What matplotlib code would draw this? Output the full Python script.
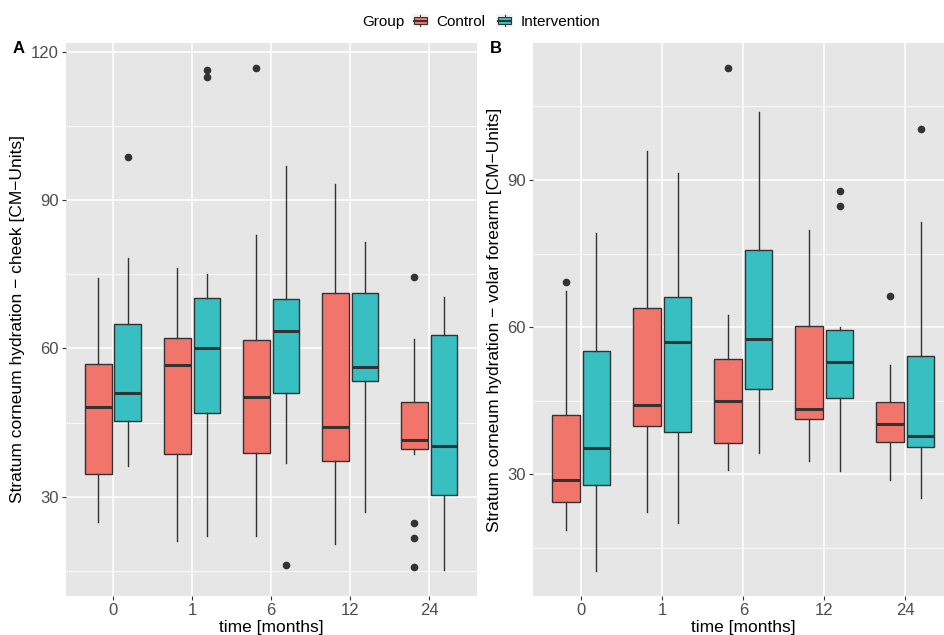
import matplotlib
matplotlib.use("Agg")
import matplotlib.pyplot as plt
from matplotlib.patches import Rectangle, Patch
from matplotlib.lines import Line2D
from matplotlib.legend_handler import HandlerBase

plt.rcParams["font.family"] = ["Liberation Sans", "DejaVu Sans"]

# Data (box stats per time point)
times = ["0", "1", "6", "12", "24"]

# Panel A - cheek
a_ctrl_lo = [24.8, 21.0, 22.1, 20.4, 38.6]
a_ctrl_q1 = [34.6, 38.6, 38.9, 37.3, 39.7]
a_ctrl_med = [48.2, 56.6, 50.1, 44.2, 41.5]
a_ctrl_q3 = [56.8, 62.1, 61.6, 71.2, 49.2]
a_ctrl_hi = [74.3, 76.2, 83.0, 93.2, 61.9]
a_ctrl_out = [[], [], [116.6], [], [74.5, 24.6, 21.6, 15.9]]

a_int_lo = [36.2, 22.1, 36.9, 27.0, 15.1]
a_int_q1 = [45.4, 47.0, 51.0, 53.5, 30.3]
a_int_med = [51.0, 60.1, 63.6, 56.3, 40.2]
a_int_q3 = [64.9, 70.2, 69.9, 71.2, 62.7]
a_int_hi = [78.3, 75.1, 96.8, 81.6, 70.3]
a_int_out = [[98.6], [116.2, 114.9], [16.2], [], []]

# Panel B - volar forearm
b_ctrl_lo = [18.5, 22.3, 30.8, 32.6, 28.8]
b_ctrl_q1 = [24.3, 39.8, 36.3, 41.2, 36.6]
b_ctrl_med = [28.8, 44.0, 44.9, 43.3, 40.2]
b_ctrl_q3 = [42.0, 63.8, 53.5, 60.3, 44.7]
b_ctrl_hi = [67.4, 96.0, 62.5, 79.9, 52.2]
b_ctrl_out = [[69.1], [], [112.8], [], [66.3]]

b_int_lo = [10.3, 20.1, 34.3, 30.7, 25.2]
b_int_q1 = [27.8, 38.5, 47.3, 45.6, 35.5]
b_int_med = [35.3, 56.9, 57.5, 52.8, 37.8]
b_int_q3 = [55.1, 66.1, 75.7, 59.5, 54.0]
b_int_hi = [79.1, 91.4, 103.9, 60.1, 81.5]
b_int_out = [[], [], [], [87.75, 84.75], [100.4]]

CTRL = "#F2756C"
INTV = "#38BFC1"
EDGE = "#333333"


def make_stats(lo, q1, med, q3, hi, out):
    return [
        {"whislo": a, "q1": b, "med": c, "q3": d, "whishi": e, "fliers": f}
        for a, b, c, d, e, f in zip(lo, q1, med, q3, hi, out)
    ]


def draw_panel(ax, ctrl, intv, ylim, ylabel, letter, letter_x):
    ax.set_facecolor("#E6E6E6")
    for stats, color, shift in [(ctrl, CTRL, -0.1875), (intv, INTV, 0.1875)]:
        pos = [i + shift for i in range(len(times))]
        ax.bxp(
            stats,
            positions=pos,
            widths=0.34,
            patch_artist=True,
            showcaps=False,
            boxprops=dict(facecolor=color, edgecolor=EDGE, linewidth=1.0),
            whiskerprops=dict(color=EDGE, linewidth=1.0),
            medianprops=dict(color=EDGE, linewidth=2.2, solid_capstyle="butt"),
            flierprops=dict(marker="o", markersize=4.5, markerfacecolor=EDGE,
                            markeredgecolor=EDGE),
            zorder=3,
        )
    ax.set_xlim(-0.6, len(times) - 0.4)
    ax.set_xticks(range(len(times)))
    ax.set_xticklabels(times)
    ax.set_yticks([30, 60, 90, 120])
    ax.set_yticks([15, 45, 75, 105], minor=True)
    ax.set_ylim(*ylim)
    ax.grid(True, which="major", color="white", linewidth=1.1, zorder=0)
    ax.grid(True, which="minor", axis="y", color="white", linewidth=0.55, zorder=0)
    ax.set_axisbelow(True)
    for s in ax.spines.values():
        s.set_visible(False)
    ax.tick_params(axis="both", which="major", length=3, width=0.8, color=EDGE,
                   labelsize=12, labelcolor="#4D4D4D", pad=2)
    ax.tick_params(axis="both", which="minor", length=0)
    ax.set_xlabel("time [months]", fontsize=12.5, labelpad=2)
    ax.set_ylabel(ylabel, fontsize=12.5, labelpad=4)
    ax.text(letter_x, 0.99, letter, transform=ax.transAxes,
            fontsize=12, fontweight="bold", ha="left", va="center")


class BoxKey(HandlerBase):
    """Boxplot glyph as in a ggplot legend key."""

    def create_artists(self, legend, orig_handle, xdescent, ydescent, width, height,
                       fontsize, trans):
        x0, y0 = -xdescent, -ydescent
        cx = x0 + width / 2
        bg = Rectangle((x0, y0), width, height, facecolor="#F2F2F2", edgecolor="none",
                       transform=trans)
        wl = Line2D([cx, cx], [y0 + height * 0.05, y0 + height * 0.95], color=EDGE,
                    linewidth=0.8, transform=trans)
        box = Rectangle((x0 + width * 0.1, y0 + height * 0.25), width * 0.8,
                        height * 0.5, facecolor=orig_handle.get_facecolor(),
                        edgecolor=EDGE, linewidth=0.8, transform=trans)
        med = Line2D([x0 + width * 0.1, x0 + width * 0.9], [y0 + height / 2] * 2,
                     color=EDGE, linewidth=1.4, transform=trans)
        return [bg, wl, box, med]


fig = plt.figure(figsize=(9.45, 6.35), dpi=100)
axA = fig.add_axes([0.0695, 0.0619, 0.4349, 0.870])
axB = fig.add_axes([0.5637, 0.0619, 0.4458, 0.870])

draw_panel(
    axA,
    make_stats(a_ctrl_lo, a_ctrl_q1, a_ctrl_med, a_ctrl_q3, a_ctrl_hi, a_ctrl_out),
    make_stats(a_int_lo, a_int_q1, a_int_med, a_int_q3, a_int_hi, a_int_out),
    (10.0, 121.7),
    "Stratum corneum hydration \u2212 cheek [CM\u2212Units]",
    "A", -0.128,
)
draw_panel(
    axB,
    make_stats(b_ctrl_lo, b_ctrl_q1, b_ctrl_med, b_ctrl_q3, b_ctrl_hi, b_ctrl_out),
    make_stats(b_int_lo, b_int_q1, b_int_med, b_int_q3, b_int_hi, b_int_out),
    (5.2, 117.9),
    "Stratum corneum hydration \u2212 volar forearm [CM\u2212Units]",
    "B", -0.101,
)

handles = [Patch(facecolor=CTRL), Patch(facecolor=INTV)]
fig.text(0.383, 0.966, "Group", fontsize=11, ha="left", va="center")
fig.legend(handles, ["Control", "Intervention"], handler_map={Patch: BoxKey()},
           loc="center left", bbox_to_anchor=(0.436, 0.966), ncol=2, frameon=False,
           fontsize=11, handlelength=1.1, handleheight=0.9, handletextpad=0.5,
           columnspacing=0.7, borderpad=0, borderaxespad=0)

fig.savefig("out.png", dpi=100, facecolor="white")
